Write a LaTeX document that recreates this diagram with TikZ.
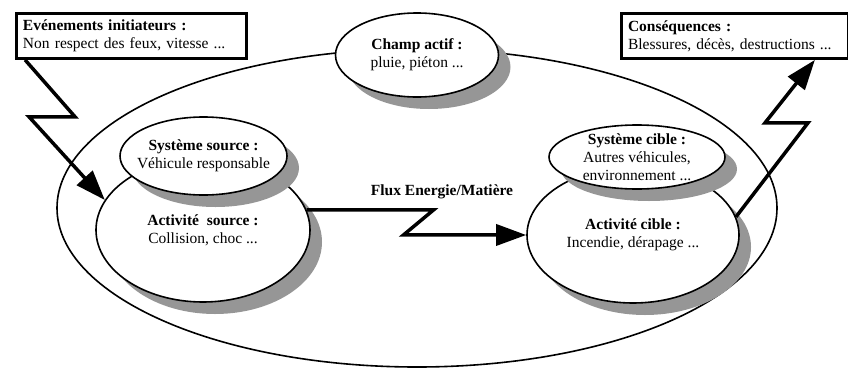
\documentclass[tikz,border=0pt]{standalone}
\usepackage{fontspec}
\setmainfont{Liberation Serif}
\usetikzlibrary{positioning,shapes.geometric,arrows.meta,calc,shadows}
\definecolor{shade}{RGB}{150,150,150}

\begin{document}
\begin{tikzpicture}[x=1pt,y=-1pt,
  every node/.style={font=\fontsize{15.5}{18}\selectfont},
  zone/.style={ellipse, draw, line width=1.6pt, inner sep=0pt},
  oval/.style={zone, fill=white, drop shadow={shadow xshift=12pt, shadow yshift=-12pt, fill=shade, opacity=1}},
  txt/.style={align=center, inner sep=0pt},
  infobox/.style={rectangle, draw, line width=2.8pt, fill=white, align=left, inner xsep=6.5pt, inner ysep=4pt, minimum height=45pt},
  bolt/.style={line width=3.5pt, -{Triangle[length=30pt,width=21pt]}}
]
  \useasboundingbox (0,0) rectangle (848,367);

  % ellipses
  \node[zone, minimum width=720pt, minimum height=318pt] (zone) at (417,208) {};
  \node[oval, minimum width=163pt, minimum height=84pt] (cact) at (417,55) {};
  \node[oval, minimum width=214pt, minimum height=144pt] (asrc) at (203,230) {};
  \node[oval, minimum width=167pt, minimum height=78pt] (ssrc) at (203.5,156) {};
  \node[oval, minimum width=212pt, minimum height=136pt] (acib) at (633,235) {};
  \node[oval, minimum width=176pt, minimum height=64pt] (scib) at (637,157) {};

  \node[txt] (cact-t) at (cact) {\textbf{Champ actif :}\\pluie, piéton ...};
  \node[txt] (asrc-t) at (asrc) {\textbf{Activité~ source :}\\Collision, choc ...};
  \node[txt] (ssrc-t) at (ssrc) {\textbf{Système source :}\\Véhicule responsable};
  \node[txt] (acib-t) at (acib) {\textbf{Activité cible :}\\Incendie, dérapage ...};
  \node[txt] (scib-t) at (scib) {\textbf{Système cible :}\\Autres véhicules,\\environnement ...};

  % boxes
  \node[infobox, text width=217pt] (evt) at (131.5,36) {\textbf{Evénements initiateurs :}\\Non respect des feux, vitesse ...};
  \node[infobox, text width=214pt] (csq) at (735,36) {\textbf{Conséquences :}\\Blessures, décès, destructions ...};

  % flux
  \draw[bolt] ($(evt.south west)+(10,0)$) -- ++(50,57) -- ++(-46,0) -- (asrc.163);
  \draw[bolt] (asrc.11) -- ++(127,0) -- ++(-30,25) -- (acib.west);
  \node[font=\fontsize{15.5}{18}\selectfont\bfseries] (flux) at (442,192) {Flux Energie/Matière};
  \draw[bolt] (acib.10) -- ++(72,-94) -- ++(-43,0) -- ($(csq.south east)+(-35,0)$);
\end{tikzpicture}
\end{document}
